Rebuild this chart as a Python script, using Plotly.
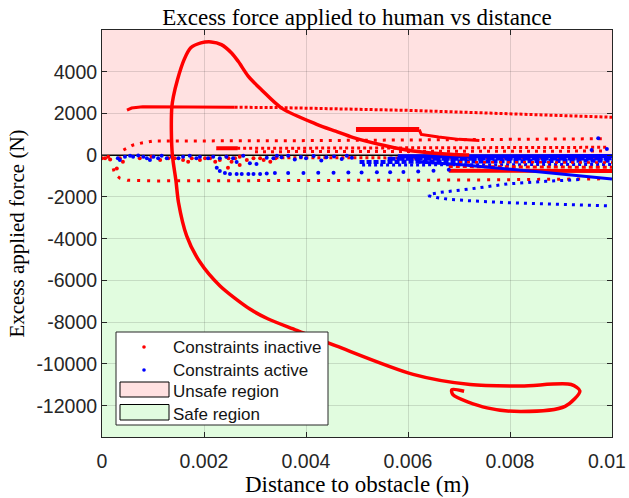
import plotly.graph_objects as go

# ---------------- axes ----------------
x_range = [0, 0.01]
y_range = [-13500, 6000]
x_ticks = [0, 0.002, 0.004, 0.006, 0.008, 0.01]
x_tick_text = ["0", "0.002", "0.004", "0.006", "0.008", "0.01"]
y_ticks = [4000, 2000, 0, -2000, -4000, -6000, -8000, -10000, -12000]
y_tick_text = ["4000", "2000", "0", "-2000", "-4000", "-6000", "-8000", "-10000", "-12000"]

# region bounds (force)
unsafe_bounds = [0, 6000]
safe_bounds = [-13500, 0]

# ---------------- constraints inactive (red) ----------------
main_x = [0.00720, 0.00682, 0.00610, 0.00558, 0.00493, 0.00458, 0.00421, 0.00353, 0.00313, 0.00287,
          0.00267, 0.00254, 0.00234, 0.00214, 0.00194, 0.00174, 0.00161, 0.00148, 0.00140, 0.00137,
          0.00136, 0.00138, 0.00145, 0.00150, 0.00166, 0.00192, 0.00231, 0.00290, 0.00326, 0.00382,
          0.00459, 0.00610, 0.00722, 0.00822, 0.00920, 0.00937, 0.00908, 0.00822, 0.00755, 0.00688,
          0.00686, 0.00710]
main_y = [10, 48, 206, 445, 847, 1153, 1483, 2244, 3130, 3780,
          4500, 4900, 5300, 5430, 5380, 5145, 4580, 3620, 2815, 2325,
          1196, 0, -1220, -2263, -3860, -5120, -6250, -7370, -7847, -8391,
          -9139, -10502, -10990, -11053, -10986, -11292, -12033, -12278, -12105, -11474,
          -11230, -11311]

hi_solid_x = [0.00049, 0.00058, 0.00080, 0.00150, 0.00260]
hi_solid_y = [2160, 2260, 2320, 2320, 2300]
hi_dot_x = [0.00260, 0.00350, 0.00600, 0.00800, 0.01000]
hi_dot_y = [2300, 2280, 2150, 2000, 1820]

top_row_x = [0.00042, 0.00060, 0.00080, 0.00100, 0.00400, 0.00700, 0.00985]
top_row_y = [250, 480, 600, 680, 700, 740, 790]

bot_row_x = [0.00022, 0.00025, 0.00035, 0.00050, 0.00100, 0.00400, 0.00700, 0.00985]
bot_row_y = [-630, -900, -1100, -1200, -1230, -1210, -1190, -1130]

seg_thick_x = [0.00498, 0.00622]
seg_thick_y = [1230, 1230]
seg_tail_x = [0.00622, 0.00626, 0.00660, 0.00700, 0.00740]
seg_tail_y = [1230, 1000, 870, 760, 700]

short_x = [0.00224, 0.00266]
short_y = [340, 330]

pos_row1_x = [0.00265, 0.00600, 0.00990]
pos_row1_y = [330, 360, 380]
pos_row2_x = [0.00300, 0.00990]
pos_row2_y = [170, 200]

neg_row_x = [0.00340, 0.00990]
neg_row_y = [-120, -140]

neg_line_x = [0.00680, 0.01000]
neg_line_y = [-740, -760]
neg_row2_x = [0.00680, 0.01000]
neg_row2_y = [-540, -580]
neg_row3_x = [0.00700, 0.01000]
neg_row3_y = [-330, -350]

red_pts_x = [0.00000, 0.00006, 0.00012, 0.00016, 0.00035, 0.00041, 0.00074, 0.00097, 0.00114, 0.00130,
             0.00143, 0.00159, 0.00169, 0.00176, 0.00192, 0.00202, 0.00212, 0.00222, 0.00231, 0.00244,
             0.00248, 0.00254, 0.00261, 0.00270, 0.00284, 0.00297, 0.00310, 0.00317, 0.00330, 0.00340,
             0.00029, 0.00247, 0.00270]
red_pts_y = [-150, -150, -70, -200, -150, -310, -150, -70, -230, -150,
             -150, -230, -310, -150, -230, -150, -150, -310, -230, -70,
             -150, -310, -150, -70, -230, -150, -150, -230, -310, -150,
             -630, -600, -470]

# ---------------- constraints active (blue) ----------------
band1_x = [0.00580, 0.01000]
band1_y = [-50, -40]
band2_x = [0.00560, 0.01000]
band2_y = [-170, -150]
band3_x = [0.00505, 0.01000]
band3_y = [-330, -260]
band4_x = [0.00510, 0.00700, 0.01000]
band4_y = [-470, -470, -440]

desc_x = [0.00620, 0.00700, 0.00850, 0.01000]
desc_y = [-330, -440, -780, -1140]

loop_x = [0.00990, 0.00900, 0.00800, 0.00720, 0.00680, 0.00656, 0.00643, 0.00640, 0.00645, 0.00663,
          0.00722, 0.00795, 0.00870, 0.00940]
loop_y = [-2420, -2360, -2280, -2180, -2110, -2030, -1980, -1940, -1860, -1780,
          -1615, -1375, -1250, -1160]

blue_row_x = [0.00225, 0.00231, 0.00241, 0.00251, 0.00264, 0.00274, 0.00287, 0.00297, 0.00310, 0.00323,
              0.00339, 0.00365, 0.00395, 0.00424, 0.00454, 0.00483, 0.00509, 0.00539, 0.00565, 0.00591,
              0.00620, 0.00650, 0.00680]
blue_row_y = [-600, -750, -850, -900, -900, -900, -900, -900, -900, -880,
              -850, -850, -850, -840, -840, -830, -830, -820, -820, -800,
              -780, -740, -700]

blue_pts_x = [0.00031, 0.00035, 0.00045, 0.00055, 0.00061, 0.00071, 0.00081, 0.00088, 0.00094, 0.00101,
              0.00110, 0.00117, 0.00127, 0.00137, 0.00150, 0.00159, 0.00172, 0.00185, 0.00192, 0.00208,
              0.00218, 0.00231, 0.00244, 0.00257, 0.00264, 0.00277, 0.00290, 0.00303, 0.00323, 0.00336,
              0.00343, 0.00352, 0.00365, 0.00378, 0.00390, 0.00400, 0.00415, 0.00430, 0.00440, 0.00455,
              0.00470, 0.00480, 0.00490, 0.00973, 0.00960, 0.00990]
blue_pts_y = [-150, -230, -70, -20, -70, -10, -70, -150, -230, -70,
              -150, -20, -150, -70, -150, -70, -20, -150, -70, -150,
              -70, -150, -70, -150, -330, -20, -380, -420, -120, -150,
              -20, -100, -30, -200, -80, -150, -40, -250, -100, -60,
              -180, -30, -120, 810, 250, 300]

RED = "rgb(255,0,0)"
BLUE = "rgb(0,0,255)"
PINK = "rgb(255,225,225)"
GREEN = "rgb(225,252,223)"
TICK_FONT = dict(family="Liberation Sans", size=19.5, color="rgb(38,38,38)")

fig = go.Figure()


def line(x, y, color, width, dash="solid"):
    fig.add_trace(go.Scatter(x=x, y=y, mode="lines", showlegend=False, hoverinfo="skip",
                             line=dict(color=color, width=width, dash=dash)))


def pts(x, y, color, size=4):
    fig.add_trace(go.Scatter(x=x, y=y, mode="markers", showlegend=False, hoverinfo="skip",
                             marker=dict(color=color, size=size, line=dict(width=0))))


# red background rows
line(hi_solid_x, hi_solid_y, RED, 3)
line(hi_dot_x, hi_dot_y, RED, 3, "3px,2px")
line(top_row_x, top_row_y, RED, 3, "3px,6px")
line(bot_row_x, bot_row_y, RED, 3, "3px,7px")
line(pos_row1_x, pos_row1_y, RED, 3, "3px,3px")
line(pos_row2_x, pos_row2_y, RED, 3, "3px,5px")
line(neg_row_x, neg_row_y, RED, 3, "3px,3px")
pts(red_pts_x, red_pts_y, RED)

# blue dense band
line(band1_x, band1_y, BLUE, 4)
line(band2_x, band2_y, BLUE, 4, "8px,1px")
line(band3_x, band3_y, BLUE, 4, "5px,2px")
line(band4_x, band4_y, BLUE, 3, "3px,3px")
line(neg_row3_x, neg_row3_y, RED, 2.5, "3px,5px")
line(neg_line_x, neg_line_y, RED, 4)
line(neg_row2_x, neg_row2_y, RED, 3, "4px,3px")
line(desc_x, desc_y, BLUE, 3)
line(loop_x, loop_y, BLUE, 3, "3px,5px")
pts(blue_row_x, blue_row_y, BLUE)
pts(blue_pts_x, blue_pts_y, BLUE)

# red foreground pieces
line(seg_thick_x, seg_thick_y, RED, 5)
line(seg_tail_x, seg_tail_y, RED, 3)
line(short_x, short_y, RED, 4)
fig.add_trace(go.Scatter(x=main_x, y=main_y, mode="lines", showlegend=False, hoverinfo="skip",
                         line=dict(color=RED, width=3.5, shape="spline", smoothing=0.8)))

# regions
shapes = [
    dict(type="rect", xref="paper", yref="y", x0=0, x1=1, y0=unsafe_bounds[0], y1=unsafe_bounds[1],
         fillcolor=PINK, line=dict(width=0), layer="below"),
    dict(type="rect", xref="paper", yref="y", x0=0, x1=1, y0=safe_bounds[0], y1=safe_bounds[1],
         fillcolor=GREEN, line=dict(width=0), layer="below"),
]

# manual legend (paper coordinates)
L, R, T, B = 102, 612, 30, 437
W, H = R - L, B - T


def px(xp):
    return (xp - L) / W


def py(yp):
    return (B - yp) / H


shapes.append(dict(type="rect", xref="paper", yref="paper", x0=px(116), x1=px(328), y0=py(425), y1=py(332),
                   fillcolor="white", line=dict(color="rgb(38,38,38)", width=1), layer="above"))
for yy, col in [(347, RED), (370, BLUE)]:
    shapes.append(dict(type="circle", xref="paper", yref="paper", xsizemode="pixel", ysizemode="pixel",
                       xanchor=px(144), yanchor=py(yy), x0=-1.8, x1=1.8, y0=-1.8, y1=1.8,
                       fillcolor=col, line=dict(width=0), layer="above"))
shapes.append(dict(type="rect", xref="paper", yref="paper", x0=px(120), x1=px(169), y0=py(397), y1=py(382),
                   fillcolor=PINK, line=dict(color="black", width=1), layer="above"))
shapes.append(dict(type="rect", xref="paper", yref="paper", x0=px(120), x1=px(169), y0=py(420), y1=py(404.5),
                   fillcolor=GREEN, line=dict(color="black", width=1), layer="above"))

legend_labels = ["Constraints inactive", "Constraints active", "Unsafe region", "Safe region"]
legend_rows = [347, 370, 391.5, 414.5]
annotations = []
for lab, yy in zip(legend_labels, legend_rows):
    annotations.append(dict(text=lab, xref="paper", yref="paper", x=px(171), y=py(yy), xanchor="left",
                            yanchor="middle", showarrow=False,
                            font=dict(family="Liberation Sans", size=17, color="rgb(20,20,20)")))

# last x tick label kept inside the page (right-aligned at the page edge)
shown_x_text = x_tick_text[:-1] + [""]
annotations.append(dict(text=x_tick_text[-1], xref="paper", yref="paper", x=px(628), y=py(461),
                        xanchor="right", yanchor="middle", showarrow=False, font=TICK_FONT))

axis_common = dict(showgrid=True, gridcolor="rgba(38,38,38,0.15)", gridwidth=1,
                   showline=True, linecolor="rgb(38,38,38)", linewidth=1, mirror="ticks",
                   ticks="inside", ticklen=5, tickcolor="rgb(38,38,38)", zeroline=False,
                   automargin=False, tickfont=TICK_FONT)

fig.update_layout(
    width=629, height=498, autosize=False,
    margin=dict(l=L, r=629 - R, t=T, b=498 - B, autoexpand=False),
    paper_bgcolor="white", plot_bgcolor="white",
    shapes=shapes, annotations=annotations, showlegend=False,
    title=dict(text="Excess force applied to human vs distance", x=0.5, xref="paper", xanchor="center",
               y=1 - 17 / 498, yref="container", yanchor="middle",
               font=dict(family="Liberation Serif", size=23, color="black")),
    xaxis=dict(range=x_range, tickvals=x_ticks, ticktext=shown_x_text, ticklabelstandoff=7,
               title=dict(text="Distance to obstacle (m)", standoff=3,
                          font=dict(family="Liberation Serif", size=23, color="black")),
               **axis_common),
    yaxis=dict(range=y_range, tickvals=y_ticks, ticktext=y_tick_text,
               title=dict(text="Excess applied force (N)", standoff=6,
                          font=dict(family="Liberation Serif", size=21, color="black")),
               **axis_common),
)
# zero line (edge of the regions)
fig.add_shape(type="line", xref="paper", yref="y", x0=0, x1=1, y0=0, y1=0,
              line=dict(color="black", width=1.5), layer="between")

fig.write_html("out.html")
